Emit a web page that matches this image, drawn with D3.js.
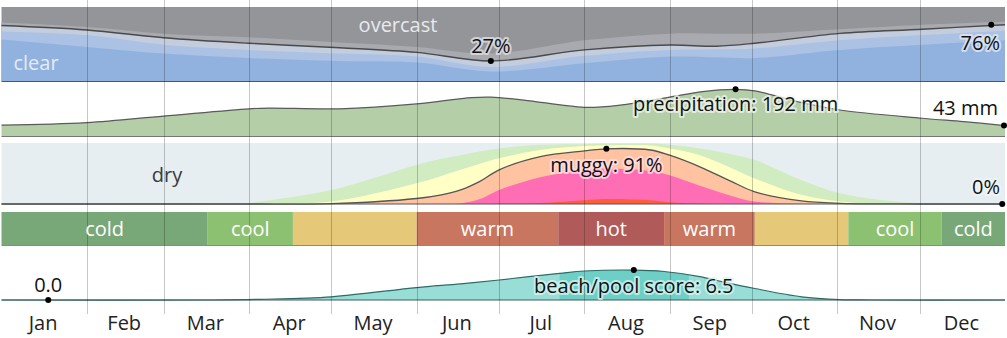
<!DOCTYPE html>
<html><head><meta charset="utf-8">
<script src="https://cdn.jsdelivr.net/npm/d3@7"></script>
<style>
html,body{margin:0;padding:0;background:#fff;}
svg{display:block;font-family:"Open Sans","Noto Sans",sans-serif;}
</style></head>
<body>
<svg id="chart" width="1007" height="338"></svg>
<script>
// ---------- data ----------
const months = ["Jan","Feb","Mar","Apr","May","Jun","Jul","Aug","Sep","Oct","Nov","Dec"];
const monthStartDays = [0,31,59,90,120,151,181,212,243,273,304,334,365];

// cloud cover: cumulative % (clear, +mostly clear, +partly cloudy, +mostly cloudy)
const cloudDays        = [0, 31, 59, 90, 123, 151, 178, 212, 243, 260, 274, 305, 335, 365];
const clearCum         = [56, 46, 37, 31, 27, 25, 13, 24, 33, 32, 31, 42, 49, 55];
const mostlyClearCum   = [67, 62, 49, 42, 37, 33, 19, 34, 42, 43, 44, 55, 62, 68];
const partlyCloudyCum  = [75, 69, 58.5, 51, 45, 38.7, 27, 42, 48.6, 47, 51, 64.4, 70, 76];
const mostlyCloudyCum  = [79, 73, 64, 59, 52, 46, 37, 55, 64, 64, 64, 70, 76, 80];

// precipitation, 31-day rolling (mm)
const precipDays = [0, 31, 59, 90, 97, 123, 151, 171, 178, 190, 212, 225, 243, 255, 267, 274, 290, 305, 335, 350, 365];
const precipMm   = [45, 55, 82, 112, 115, 112, 132, 158, 160, 148, 118, 127, 160, 183, 192, 186, 140, 107, 73, 59, 43];

// humidity comfort: cumulative %
const muggyDays        = [0, 87, 94, 120, 151, 160, 167, 174, 181, 196, 212, 220, 236, 243, 254, 265, 274, 291, 305, 320, 334, 365];
const comfortableCum   = [0, 0, 4, 23, 64, 74, 80, 86, 91, 97, 98, 99, 99, 97, 91, 82, 72, 39, 17.5, 6.5, 1.5, 0];
const humidCum         = [0, 0, 0.5, 4, 34, 46, 56, 66, 75, 88.5, 95, 96, 96, 91, 80, 60, 42, 15, 4, 0.5, 0, 0];
const muggyCum         = [0, 0, 0, 0.5, 9, 15, 23, 37, 56, 77.6, 87, 90.5, 88.5, 80, 61, 38, 20, 5, 1, 0.2, 0, 0];
const oppressiveCum    = [0, 0, 0, 0, 0, 0, 1, 8, 23, 44, 55, 58, 54, 47, 30, 14, 4, 0.5, 0, 0, 0, 0];
const miserableCum     = [0, 0, 0, 0, 0, 0, 0, 0, 0.5, 1.5, 6, 8, 6, 3, 1, 0, 0, 0, 0, 0, 0, 0];

// temperature bands
const tempStart  = [0, 75, 106, 151, 202.5, 241, 274, 308, 342];
const tempEnd    = [75, 106, 151, 202.5, 241, 274, 308, 342, 365];
const tempCat    = ["cold","cool","comfortable","warm","hot","warm","comfortable","cool","cold"];
const tempLabel  = ["cold","cool","","warm","hot","warm","","cool","cold"];

// beach/pool score
const beachDays  = [0, 77, 94, 120, 151, 167, 181, 203, 212, 230, 241, 254, 262, 274, 291, 305, 316, 365];
const beachScore = [0, 0, 0.15, 0.7, 2.7, 3.5, 4.35, 5.8, 6.3, 6.5, 6.2, 5.1, 4.0, 2.5, 0.7, 0.1, 0, 0];
const beachBest  = [203, 250];

// ---------- drawing ----------
const svg = d3.select("#chart");
const x = d3.scaleLinear().domain([0, 365]).range([1.5, 1005]);
const curve = d3.curveCatmullRom.alpha(0.5);
const FS = 20;

const colors = {
  overcast:"#949599", mostlyCloudy:"#a8aaaf", partly:"#c4cddd", mostlyClear:"#abc2e4", clear:"#91b2de",
  precip:"#b4cea8",
  dry:"#e6eef2", comfortable:"#d0ecc0", humid:"#ffffc6", muggy:"#ffc3a2", oppressive:"#ff6db4", miserable:"#ff5c3c",
  cold:"#78a878", cool:"#8dc172", comfortableT:"#e5c978", warm:"#c8765f", hot:"#b05b59",
  beach:"#98ddd6", beachBest:"#6dcfc5"
};
const tempColors = {cold:colors.cold, cool:colors.cool, comfortable:colors.comfortableT, warm:colors.warm, hot:colors.hot};

function bandArea(days, hi, y) {
  return d3.area().curve(curve)
    .x((d,i)=>x(days[i]))
    .y0(y(0))
    .y1((d,i)=> Math.min(y(0), y(hi[i])))(days);
}
function linePath(days, vals, y) {
  return d3.line().curve(curve).x((d,i)=>x(days[i])).y((d,i)=>y(vals[i]))(days);
}
function halo(sel, col) {
  sel.attr("stroke", col).attr("stroke-width", 4).attr("stroke-linejoin","round").attr("paint-order","stroke");
}

// --- cloud panel ---
const yC = d3.scaleLinear().domain([0,100]).range([81, 7]);
svg.append("rect").attr("x", x(0)).attr("y", yC(100)).attr("width", x(365)-x(0)).attr("height", yC(0)-yC(100)).attr("fill", colors.overcast);
svg.append("path").attr("d", bandArea(cloudDays, mostlyCloudyCum, yC)).attr("fill", colors.mostlyCloudy);
svg.append("path").attr("d", bandArea(cloudDays, partlyCloudyCum, yC)).attr("fill", colors.partly);
svg.append("path").attr("d", bandArea(cloudDays, mostlyClearCum, yC)).attr("fill", colors.mostlyClear);
svg.append("path").attr("d", bandArea(cloudDays, clearCum, yC)).attr("fill", colors.clear);
svg.append("path").attr("d", linePath(cloudDays, partlyCloudyCum, yC)).attr("fill","none").attr("stroke","#4a4a4a").attr("stroke-width",1.4);
svg.append("line").attr("x1", x(0)).attr("x2", x(365)).attr("y1", yC(0)+0.5).attr("y2", yC(0)+0.5).attr("stroke","#555").attr("stroke-width",1);

// --- precipitation panel ---
const yP = d3.scaleLinear().domain([0,100]).range([136, 111.7]);
svg.append("path").attr("d", bandArea(precipDays, precipMm, yP)).attr("fill", colors.precip);
svg.append("path").attr("d", linePath(precipDays, precipMm, yP)).attr("fill","none").attr("stroke","#5a5a5a").attr("stroke-width",1.2);
svg.append("line").attr("x1", x(0)).attr("x2", x(365)).attr("y1", yP(0)+0.5).attr("y2", yP(0)+0.5).attr("stroke","#777").attr("stroke-width",1);

// --- humidity panel ---
const yM = d3.scaleLinear().domain([0,100]).range([204, 143]);
svg.append("rect").attr("x", x(0)).attr("y", yM(100)).attr("width", x(365)-x(0)).attr("height", yM(0)-yM(100)).attr("fill", colors.dry);
svg.append("path").attr("d", bandArea(muggyDays, comfortableCum, yM)).attr("fill", colors.comfortable);
svg.append("path").attr("d", bandArea(muggyDays, humidCum, yM)).attr("fill", colors.humid);
svg.append("path").attr("d", bandArea(muggyDays, muggyCum, yM)).attr("fill", colors.muggy);
svg.append("path").attr("d", bandArea(muggyDays, oppressiveCum, yM)).attr("fill", colors.oppressive);
svg.append("path").attr("d", bandArea(muggyDays, miserableCum, yM)).attr("fill", colors.miserable);
svg.append("path").attr("d", linePath(muggyDays, muggyCum, yM)).attr("fill","none").attr("stroke","#555").attr("stroke-width",1.3);
svg.append("line").attr("x1", x(0)).attr("x2", x(365)).attr("y1", yM(0)).attr("y2", yM(0)).attr("stroke","#555").attr("stroke-width",1.2);

// --- temperature band ---
const tb = svg.append("g");
tempStart.forEach((s,i)=>{
  tb.append("rect").attr("x", x(s)).attr("y", 212).attr("width", x(tempEnd[i])-x(s)).attr("height", 33).attr("fill", tempColors[tempCat[i]]);
});
svg.append("line").attr("x1", x(0)).attr("x2", x(365)).attr("y1", 245.5).attr("y2", 245.5).attr("stroke","#8a8a8a").attr("stroke-width",1);

// --- beach panel ---
const yB = d3.scaleLinear().domain([0,10]).range([300, 254]);
svg.append("path").attr("d", bandArea(beachDays, beachScore, yB)).attr("fill", colors.beach);
svg.append("clipPath").attr("id","bestclip").append("rect")
  .attr("x", x(beachBest[0])).attr("y", 0).attr("width", x(beachBest[1])-x(beachBest[0])).attr("height", 338);
svg.append("path").attr("d", bandArea(beachDays, beachScore, yB)).attr("fill", colors.beachBest).attr("clip-path","url(#bestclip)");
svg.append("path").attr("d", linePath(beachDays, beachScore, yB)).attr("fill","none").attr("stroke","#2e6b66").attr("stroke-width",1.2);
svg.append("line").attr("x1", x(0)).attr("x2", x(365)).attr("y1", yB(0)).attr("y2", yB(0)).attr("stroke","#3e5e5c").attr("stroke-width",1.2);

// --- gridlines ---
svg.append("g").selectAll("line").data(monthStartDays.slice(1,12)).join("line")
  .attr("x1", d=>Math.round(x(d))+0.5).attr("x2", d=>Math.round(x(d))+0.5)
  .attr("y1", 0).attr("y2", 314)
  .attr("stroke","#000").attr("stroke-opacity",0.22).attr("stroke-width",1);

// --- month axis ---
const mid = months.map((m,i)=>(monthStartDays[i]+monthStartDays[i+1])/2);
svg.append("g").selectAll("text").data(months).join("text")
  .attr("x",(d,i)=>x(mid[i])-1).attr("y",330).attr("text-anchor","middle")
  .attr("font-size",FS).attr("fill","#222").text(d=>d);

// --- band labels ---
tempStart.forEach((s,i)=>{
  if (!tempLabel[i]) return;
  svg.append("text").attr("x",(x(s)+x(tempEnd[i]))/2).attr("y",235.5).attr("text-anchor","middle")
    .attr("font-size",FS).attr("fill","#fff").text(tempLabel[i]);
});

// --- panel labels & annotations ---
const labels = svg.append("g").attr("font-size",FS);
labels.append("text").attr("x",398).attr("y",32).attr("text-anchor","middle").attr("fill","#e8e9ee").text("overcast");
labels.append("text").attr("x",36).attr("y",70).attr("text-anchor","middle").attr("fill","#e3ebf6").text("clear");
labels.append("text").attr("x",167).attr("y",181.5).attr("text-anchor","middle").attr("fill","#3a3a3a").text("dry");

// annotation values
const annCloudMin = {day:178, val:27, text:"27%"};
const annCloudEnd = {day:360, val:76, text:"76%"};
const annPrecipMax = {day:267, val:192, text:"precipitation: 192 mm"};
const annPrecipMin = {day:365, val:43, text:"43 mm"};
const annMuggyMax = {day:220, val:90.5, text:"muggy: 91%"};
const annMuggyMin = {day:364, val:0, text:"0%"};
const annBeachMax = {day:230, val:6.5, text:"beach/pool score: 6.5"};
const annBeachMin = {day:17, val:0, text:"0.0"};

function dot(px, py){ svg.append("circle").attr("cx",px).attr("cy",py).attr("r",3).attr("fill","#000"); }
function ann(px, py, txt, anchor, haloCol){
  const t = labels.append("text").attr("x",px).attr("y",py).attr("text-anchor",anchor).attr("fill","#111").text(txt);
  halo(t, haloCol);
}

ann(x(annCloudMin.day), 53, annCloudMin.text, "middle", "rgba(225,226,230,0.8)");
dot(x(annCloudMin.day), yC(annCloudMin.val));
ann(1000, 50, annCloudEnd.text, "end", "rgba(225,232,245,0.8)");
dot(x(annCloudEnd.day), yC(annCloudEnd.val));

ann(x(annPrecipMax.day), 111, annPrecipMax.text, "middle", "rgba(240,246,236,0.75)");
dot(x(annPrecipMax.day), yP(annPrecipMax.val));
ann(998, 115, annPrecipMin.text, "end", "rgba(255,255,255,0.8)");
dot(x(annPrecipMin.day)-1, yP(annPrecipMin.val));

ann(x(annMuggyMax.day), 171.5, annMuggyMax.text, "middle", "rgba(255,225,235,0.75)");
dot(x(annMuggyMax.day), yM(annMuggyMax.val));
ann(1000, 194, annMuggyMin.text, "end", "rgba(240,246,248,0.8)");
dot(x(annMuggyMin.day), yM(annMuggyMin.val));

ann(x(annBeachMax.day), 293, annBeachMax.text, "middle", "rgba(215,245,242,0.75)");
dot(x(annBeachMax.day), yB(annBeachMax.val));
ann(x(annBeachMin.day), 292, annBeachMin.text, "middle", "rgba(255,255,255,0.8)");
dot(x(annBeachMin.day), yB(annBeachMin.val));
</script>
</body></html>
